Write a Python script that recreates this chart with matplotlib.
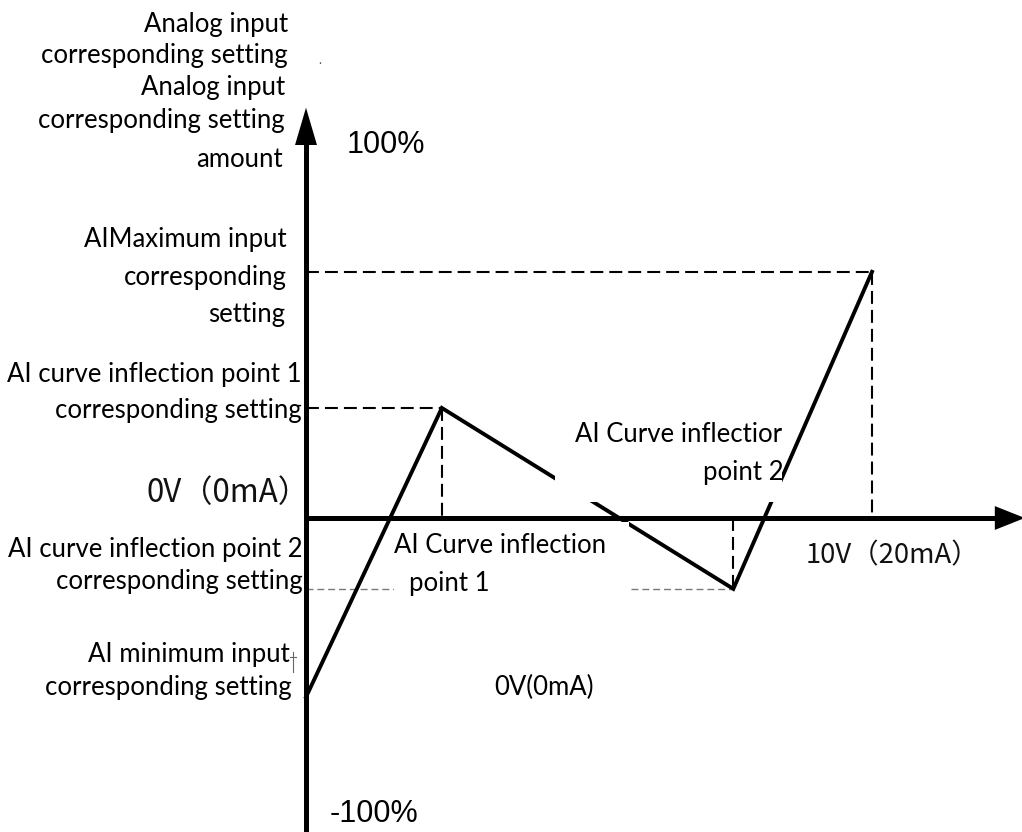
import matplotlib
matplotlib.use("Agg")
import matplotlib.pyplot as plt
from matplotlib.patches import Rectangle
from matplotlib.transforms import Affine2D

W, H, DPI = 1022, 832, 100

# AI curve: input voltage (V) -> corresponding setting (%)
# points: minimum input, inflection point 1, inflection point 2, maximum input
curve_volts = [0.0, 2.4, 7.55, 10.0]
curve_setting = [-48.0, 29.5, -19.0, 66.0]

axis_top_label = "100%"
axis_bottom_label = "-100%"
origin_label = "0V（0mA）"
full_scale_label = "10V（20mA）"
zero_label = "0V(0mA)"

left_labels = [
    "Analog input", "corresponding setting",
    "Analog input", "corresponding setting", "amount",
    "AIMaximum input", "corresponding", "setting",
    "AI curve inflection point 1", "corresponding setting",
    "AI curve inflection point 2", "corresponding setting",
    "AI minimum input", "corresponding setting",
]
inflection1_label = ["AI Curve inflection", "point 1"]
inflection2_label = ["AI Curve inflectior", "point 2"]

MAIN_FONT = "Lato"
MAIN_SIZE = 18.5
CJK = ["Noto Sans CJK SC", "DejaVu Sans"]

fig = plt.figure(figsize=(W / DPI, H / DPI), dpi=DPI)
ax = fig.add_axes([0, 0, 1, 1])
ax.axis("off")

# origin of the diagram in pixels and scale of each axis
ox, oy = 306, 518
px_per_volt, px_per_pct = 56.6, 3.73
ax.set_xlim(-ox / px_per_volt, (W - ox) / px_per_volt)
ax.set_ylim(-(H - oy) / px_per_pct, oy / px_per_pct)
xmin, xmax = ax.get_xlim()
ymin, ymax = ax.get_ylim()

# pixel coordinates measured from the top-left corner
pix = Affine2D().scale(1, -1).translate(0, H)

x_min_in, x_p1, x_p2, x_max_in = curve_volts
y_min_in, y_p1, y_p2, y_max_in = curve_setting

# guide lines
guide = dict(color="black", lw=1.5, dashes=(6.2, 2.9), zorder=2)
ax.plot([0, x_max_in], [y_max_in, y_max_in], **guide)
ax.plot([x_max_in, x_max_in], [y_max_in, 0], **guide)
ax.plot([0, x_p1], [y_p1, y_p1], **guide)
ax.plot([x_p1, x_p1], [y_p1, 0], **guide)
ax.plot([x_p2, x_p2], [0, y_p2], **guide)
ax.plot([0, x_p2], [y_p2, y_p2], color="#7a7a7a", lw=1.0,
        dashes=(5, 2.8), zorder=2)

# the curve itself
ax.plot(curve_volts, curve_setting, color="black", lw=2.8,
        solid_joinstyle="miter", zorder=3)

# white label boxes that sit over the lines
ax.add_patch(Rectangle((555, 420), 227, 82, transform=pix,
                       facecolor="white", edgecolor="none", zorder=4))
ax.add_patch(Rectangle((394, 522), 235, 78, transform=pix,
                       facecolor="white", edgecolor="none", zorder=4))

# axes with arrow heads
ax.plot([0, 0], [ymin, 102], color="black", lw=3.6, zorder=5,
        solid_capstyle="butt")
ax.fill([-0.194, 0.194, 0], [100, 100, 110], color="black", zorder=5, lw=0)
ax.plot([0, 12.3], [0, 0], color="black", lw=3.6, zorder=5,
        solid_capstyle="butt")
ax.fill([12.17, 12.17, xmax + 0.05], [3.2, -3.2, 0], color="black",
        zorder=5, lw=0)

def put(s, x, y, ha="left", font=MAIN_FONT, size=MAIN_SIZE, color="black"):
    ax.text(x, y, s, transform=pix, ha=ha, va="baseline",
            family=font, fontsize=size, color=color, zorder=6)

left_pos = [(288, 32), (288, 63), (285, 95), (285, 128), (283, 167),
            (287, 247), (287, 285), (285, 322), (302, 382), (302, 418),
            (303, 557), (303, 589), (290, 662), (292, 695)]
for s, (x, y) in zip(left_labels, left_pos):
    put(s, x, y, ha="right")

put(inflection2_label[0], 575, 442)
put(inflection2_label[1], 703, 480)
put(inflection1_label[0], 394, 553)
put(inflection1_label[1], 409, 591)
put(zero_label, 494, 695)

put(axis_top_label, 347, 153, font="Liberation Sans", size=22)
put(axis_bottom_label, 330, 822, font="Liberation Sans", size=22)
put(origin_label, 146, 502, font=CJK, size=22.5, color="#111111")
put(full_scale_label, 806, 563, font=CJK, size=19.8, color="#111111")

# small stray marks
put(".", 318, 64, size=9, color="#555555")
ax.plot([293, 293], [652, 672], transform=pix, color="#666666", lw=0.8)
ax.plot([290, 296], [657, 657], transform=pix, color="#666666", lw=0.8)

fig.savefig("out.png", dpi=DPI)
